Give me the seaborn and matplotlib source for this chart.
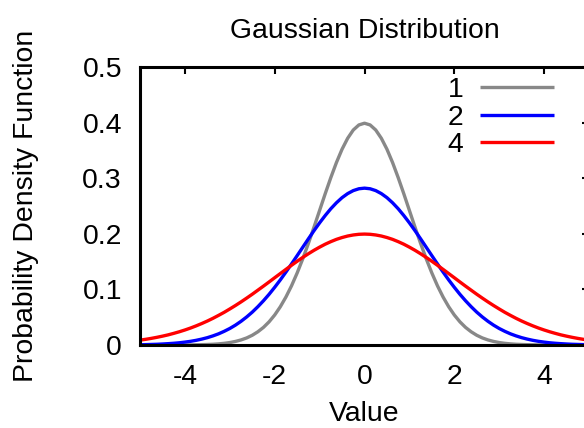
import matplotlib
matplotlib.use("Agg")
import matplotlib.pyplot as plt
import seaborn as sns
import pandas as pd
from matplotlib.lines import Line2D

# x positions (Value), step 0.125
x_values = [-5.0, -4.875, -4.75, -4.625, -4.5, -4.375, -4.25, -4.125, -4.0, -3.875,
            -3.75, -3.625, -3.5, -3.375, -3.25, -3.125, -3.0, -2.875, -2.75, -2.625,
            -2.5, -2.375, -2.25, -2.125, -2.0, -1.875, -1.75, -1.625, -1.5, -1.375,
            -1.25, -1.125, -1.0, -0.875, -0.75, -0.625, -0.5, -0.375, -0.25, -0.125,
            0.0,
            0.125, 0.25, 0.375, 0.5, 0.625, 0.75, 0.875, 1.0, 1.125, 1.25,
            1.375, 1.5, 1.625, 1.75, 1.875, 2.0, 2.125, 2.25, 2.375, 2.5,
            2.625, 2.75, 2.875, 3.0, 3.125, 3.25, 3.375, 3.5, 3.625, 3.75,
            3.875, 4.0, 4.125, 4.25, 4.375, 4.5, 4.625, 4.75, 4.875, 5.0]

# density values (variance 1)
pdf_var1 = [0.0000, 0.0000, 0.0000, 0.0000, 0.0000, 0.0000, 0.0000, 0.0001, 0.0001, 0.0002,
            0.0004, 0.0006, 0.0009, 0.0013, 0.0020, 0.0030, 0.0044, 0.0064, 0.0091, 0.0127,
            0.0175, 0.0238, 0.0317, 0.0417, 0.0540, 0.0688, 0.0863, 0.1065, 0.1295, 0.1550,
            0.1826, 0.2119, 0.2420, 0.2721, 0.3011, 0.3282, 0.3521, 0.3718, 0.3867, 0.3958,
            0.3989,
            0.3958, 0.3867, 0.3718, 0.3521, 0.3282, 0.3011, 0.2721, 0.2420, 0.2119, 0.1826,
            0.1550, 0.1295, 0.1065, 0.0863, 0.0688, 0.0540, 0.0417, 0.0317, 0.0238, 0.0175,
            0.0127, 0.0091, 0.0064, 0.0044, 0.0030, 0.0020, 0.0013, 0.0009, 0.0006, 0.0004,
            0.0002, 0.0001, 0.0001, 0.0000, 0.0000, 0.0000, 0.0000, 0.0000, 0.0000, 0.0000]

# variance 2
pdf_var2 = [0.0005, 0.0007, 0.0010, 0.0013, 0.0018, 0.0024, 0.0031, 0.0040, 0.0052, 0.0066,
            0.0084, 0.0106, 0.0132, 0.0164, 0.0201, 0.0246, 0.0297, 0.0357, 0.0426, 0.0504,
            0.0591, 0.0689, 0.0796, 0.0912, 0.1038, 0.1171, 0.1312, 0.1458, 0.1607, 0.1758,
            0.1909, 0.2056, 0.2197, 0.2329, 0.2451, 0.2558, 0.2650, 0.2723, 0.2777, 0.2810,
            0.2821,
            0.2810, 0.2777, 0.2723, 0.2650, 0.2558, 0.2451, 0.2329, 0.2197, 0.2056, 0.1909,
            0.1758, 0.1607, 0.1458, 0.1312, 0.1171, 0.1038, 0.0912, 0.0796, 0.0689, 0.0591,
            0.0504, 0.0426, 0.0357, 0.0297, 0.0246, 0.0201, 0.0164, 0.0132, 0.0106, 0.0084,
            0.0066, 0.0052, 0.0040, 0.0031, 0.0024, 0.0018, 0.0013, 0.0010, 0.0007, 0.0005]

# variance 4
pdf_var4 = [0.0088, 0.0102, 0.0119, 0.0138, 0.0159, 0.0182, 0.0209, 0.0238, 0.0270, 0.0305,
            0.0344, 0.0386, 0.0431, 0.0480, 0.0533, 0.0588, 0.0648, 0.0710, 0.0775, 0.0843,
            0.0913, 0.0986, 0.1059, 0.1134, 0.1210, 0.1285, 0.1360, 0.1434, 0.1506, 0.1575,
            0.1641, 0.1703, 0.1760, 0.1813, 0.1859, 0.1900, 0.1933, 0.1960, 0.1979, 0.1991,
            0.1995,
            0.1991, 0.1979, 0.1960, 0.1933, 0.1900, 0.1859, 0.1813, 0.1760, 0.1703, 0.1641,
            0.1575, 0.1506, 0.1434, 0.1360, 0.1285, 0.1210, 0.1134, 0.1059, 0.0986, 0.0913,
            0.0843, 0.0775, 0.0710, 0.0648, 0.0588, 0.0533, 0.0480, 0.0431, 0.0386, 0.0344,
            0.0305, 0.0270, 0.0238, 0.0209, 0.0182, 0.0159, 0.0138, 0.0119, 0.0102, 0.0088]

series_labels = ["1", "2", "4"]
series_colors = ["#888888", "#0000ff", "#ff0000"]
x_ticks = [-4, -2, 0, 2, 4]
x_tick_labels = ["-4", "-2", "0", "2", "4"]
y_ticks = [0, 0.1, 0.2, 0.3, 0.4, 0.5]
y_tick_labels = ["0", "0.1", "0.2", "0.3", "0.4", "0.5"]

frames = []
for lab, ys in zip(series_labels, [pdf_var1, pdf_var2, pdf_var4]):
    frames.append(pd.DataFrame({"Value": x_values, "pdf": ys, "var": lab}))
df = pd.concat(frames, ignore_index=True)

sns.set_style("white")
plt.rcParams["font.family"] = ["Liberation Sans", "DejaVu Sans"]
plt.rcParams["lines.solid_joinstyle"] = "round"
plt.rcParams["lines.solid_capstyle"] = "butt"
plt.rcParams["text.color"] = "black"
plt.rcParams["axes.labelcolor"] = "black"
plt.rcParams["xtick.color"] = "black"
plt.rcParams["ytick.color"] = "black"
FS = 20.4

W, H = 584, 428
fig = plt.figure(figsize=(W / 100, H / 100), dpi=100)
left, right, top, bottom = 140, 589, 67, 345
ax = fig.add_axes([left / W, 1 - bottom / H, (right - left) / W, (bottom - top) / H])

sns.lineplot(data=df, x="Value", y="pdf", hue="var", hue_order=series_labels,
             palette=dict(zip(series_labels, series_colors)), linewidth=2.4,
             ax=ax, legend=False, sort=False)

ax.set_xlim(-5, 5)
ax.set_ylim(0, 0.5)
ax.set_xticks(x_ticks)
ax.set_xticklabels(x_tick_labels)
ax.set_yticks(y_ticks)
ax.set_yticklabels(y_tick_labels)
ax.tick_params(direction="in", length=5, width=1.5, top=True, right=True,
               labelsize=FS, color="black", labelcolor="black")
ax.tick_params(axis="y", pad=13)
ax.tick_params(axis="x", pad=14)
for s in ax.spines.values():
    s.set_visible(True)
    s.set_color("black")
    s.set_linewidth(2.2)

ax.set_title("Gaussian Distribution", fontsize=FS, pad=21, color="black")
ax.set_xlabel("Value", fontsize=FS, color="black")
ax.set_ylabel("Probability Density Function", fontsize=FS, color="black")
ax.xaxis.set_label_coords(0.5, -(421 - bottom) / (bottom - top))
ax.xaxis.label.set_va("baseline")
ax.yaxis.set_label_coords((39 - left) / (right - left), 0.5)

handles = [Line2D([0], [0], color=c, lw=2.4) for c in series_colors]
leg = ax.legend(handles, series_labels, loc="upper right",
                bbox_to_anchor=(554 / W, 1 - 77 / H), bbox_transform=fig.transFigure,
                frameon=False, markerfirst=False, fontsize=FS, handlelength=2.6,
                handletextpad=0.6, labelspacing=0.06, borderpad=0, borderaxespad=0)
for t in leg.get_texts():
    t.set_color("black")

fig.savefig("out.png", dpi=100)
